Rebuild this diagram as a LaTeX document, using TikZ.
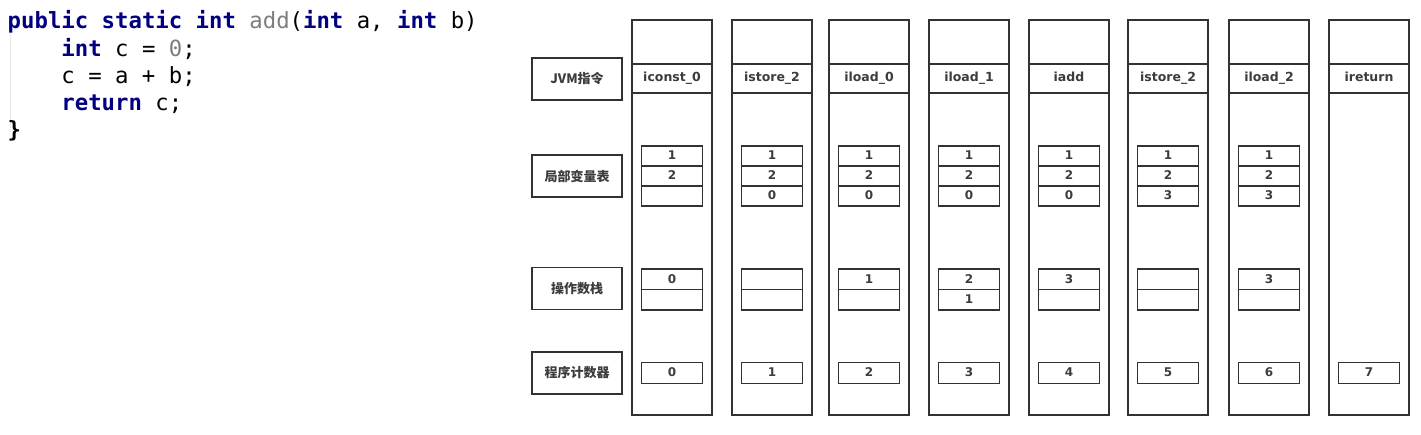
\documentclass[tikz,border=0pt]{standalone}
\usepackage{fontspec}
\setmainfont{DejaVu Sans}
\setmonofont{DejaVu Sans Mono}
\newfontfamily\cjk{Noto Sans CJK SC}
\usepackage{tikz}
\usetikzlibrary{positioning}
\definecolor{kwblue}{RGB}{0,0,128}
\definecolor{fngray}{RGB}{125,125,125}
\definecolor{guidegray}{RGB}{232,232,232}
\definecolor{linegray}{RGB}{50,50,50}
\definecolor{textgray}{RGB}{60,60,60}
\newcommand{\kw}[1]{\textcolor{kwblue}{\textbf{#1}}}

\begin{document}
\begin{tikzpicture}[x=1pt,y=-1pt,line width=1.5pt,
  codeline/.style={anchor=base west,inner sep=0pt,font=\ttfamily\fontsize{22.3}{26}\selectfont},
  namebox/.style={draw=linegray,text=textgray,minimum width=90pt,minimum height=42pt,inner sep=0pt,font=\cjk\bfseries\fontsize{13}{15}\selectfont},
  colbox/.style={draw=linegray,minimum width=80pt,minimum height=395pt,inner sep=0pt},
  insbox/.style={draw=linegray,text=textgray,minimum width=80pt,minimum height=29pt,inner sep=0pt,text height=9pt,text depth=3pt,font=\bfseries\fontsize{12.5}{14}\selectfont},
  cell/.style={draw=linegray,text=textgray,minimum width=61pt,minimum height=20pt,inner sep=0pt,outer sep=0pt,text height=9pt,text depth=1pt,font=\bfseries\fontsize{12}{14}\selectfont}]
\useasboundingbox (0,0) rectangle (1421,435);

% source code
\draw [guidegray,line width=0.8pt] (10,33) -- (10,128);
\node [codeline] (code1) at (7,29) {\kw{public} \kw{static} \kw{int} \textcolor{fngray}{add}(\kw{int} a, \kw{int} b)};
\node [codeline] (code2) at (60.7,56.5) {\kw{int} c = \textcolor{fngray}{0};};
\node [codeline] (code3) at (60.7,84) {c = a + b;};
\node [codeline] (code4) at (60.7,111) {\kw{return} c;};
\node [codeline] (code5) at (7,138) {\textbf{\}}};

% row names
\node [namebox] (nJVM) at (577,79) {JVM指令};
\node [namebox] (nLocal) at (577,176) {局部变量表};
\node [namebox] (nStack) at (577,288.5) {操作数栈};
\node [namebox] (nPC) at (577,373) {程序计数器};

% one column per instruction
\foreach \i/\cx/\ins/\la/\lb/\lc/\sa/\sb/\pc in {
  1/672/iconst\_0/1/2//0//0,
  2/772/istore\_2/1/2/0///1,
  3/869/iload\_0/1/2/0/1//2,
  4/969/iload\_1/1/2/0/2/1/3,
  5/1069/iadd/1/2/0/3//4,
  6/1168/istore\_2/1/2/3///5,
  7/1269/iload\_2/1/2/3/3//6,
  8/1369/ireturn//////7}
{
  \node [colbox] (col\i) at (\cx,217.5) {};
  \node [insbox] (ins\i) at (\cx,78.5) {\ins};
  \ifnum\i<8
    \node [cell] (loc\i a) at (\cx,156) {\la};
    \node [cell,below=0pt of loc\i a] (loc\i b) {\lb};
    \node [cell,below=0pt of loc\i b] (loc\i c) {\lc};
    \node [cell,minimum height=20.5pt] (stk\i a) at (\cx,279.5) {\sa};
    \node [cell,minimum height=20.5pt,below=0pt of stk\i a] (stk\i b) {\sb};
  \fi
  \node [cell,minimum height=20.5pt] (pc\i) at (\cx,373) {\pc};
}
\end{tikzpicture}
\end{document}
